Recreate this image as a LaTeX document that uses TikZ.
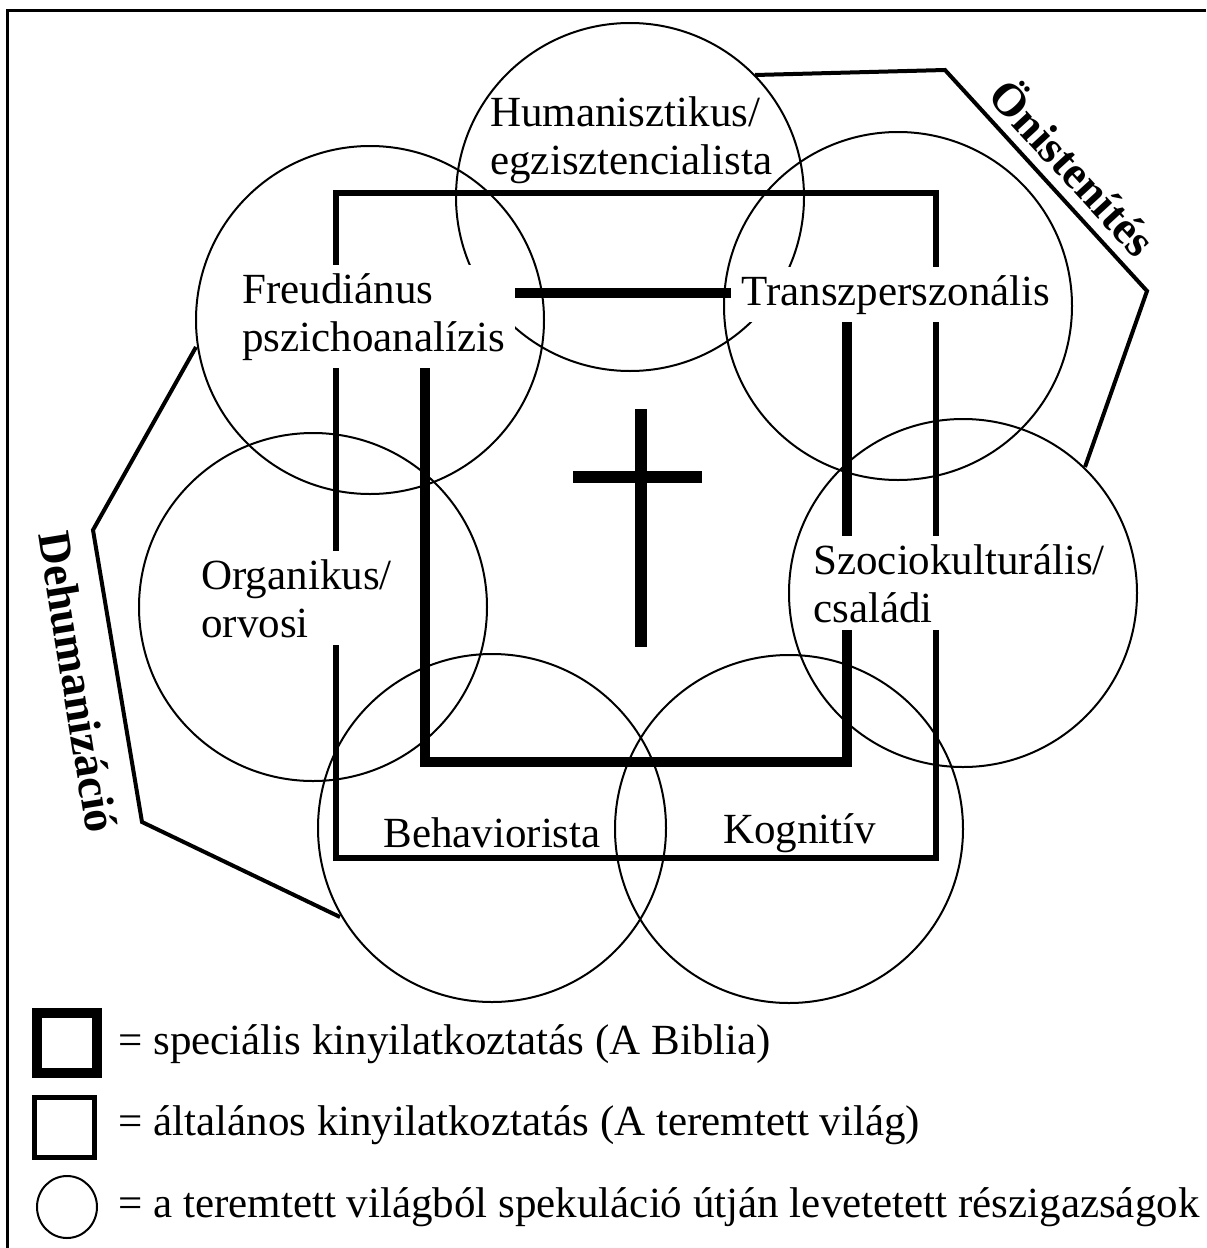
\documentclass[tikz,border=0pt]{standalone}
\usepackage{fontspec}
\setmainfont{Liberation Serif}
\usepackage{tikz}
\newcommand{\pxsize}{0.5pt}
\newcommand{\labelfont}{\fontsize{21.5}{24}\selectfont}
\newcommand{\trendfont}{\fontsize{23}{27}\selectfont\bfseries}
\newcommand{\schoolcircle}[1]{
	\draw[line width=1pt] (#1) circle (174);
}
\tikzset{
	school/.style={align=left, font=\labelfont, inner xsep=5pt, inner ysep=4pt},
	covered/.style={school, fill=white},
	trend/.style={font=\trendfont, inner sep=0pt},
	trend line/.style={line width=2pt},
}

\begin{document}
\begin{tikzpicture}[x=\pxsize,y=-\pxsize]
	\useasboundingbox (0,0) rectangle (1206,1248);
	\draw[line width=1.5pt] (7,1248) -- (7,10) -- (1206,10);

	\coordinate (Hum) at (630,197);
	\coordinate (Freud) at (370,320);
	\coordinate (Trans) at (898,306);
	\coordinate (Organ) at (313,607);
	\coordinate (Szoc) at (963,593);
	\coordinate (Behav) at (492,828);
	\coordinate (Kogn) at (789,829);

	\coordinate (oA) at (755,75);
	\coordinate (oB) at (945,70);
	\coordinate (oC) at (1147,291);
	\coordinate (oD) at (1085,467);
	\coordinate (dA) at (196,347);
	\coordinate (dB) at (93,530);
	\coordinate (dC) at (142,822);
	\coordinate (dD) at (340,917);

	\draw[trend line] (oA) -- (oB) -- (oC) -- (oD);
	\draw[trend line] (dA) -- (dB) -- (dC) -- (dD);

	\draw[line width=2.75pt] (336,193) rectangle (936,858);
	\draw[line width=5pt] (425,293) rectangle (847,762);
	\draw[line width=6pt] (641,409) -- (641,647);
	\draw[line width=6pt] (573,477) -- (702,477);

	\schoolcircle{Hum}
	\schoolcircle{Freud}
	\schoolcircle{Trans}
	\schoolcircle{Organ}
	\schoolcircle{Szoc}
	\schoolcircle{Behav}
	\schoolcircle{Kogn}

	\node[school, anchor=base west] (humlabel) at (480,174) {Humanisztikus/\\egzisztencialista};
	\node[covered, anchor=base west] (freudlabel) at (232,351) {Freudiánus\\pszichoanalízis};
	\node[covered, anchor=base west] (translabel) at (731,305) {Transzperszonális};
	\node[covered, anchor=base west] (organlabel) at (191,637) {Organikus/\\orvosi};
	\node[covered, anchor=base west] (szoclabel) at (803,622) {Szociokulturális/\\családi};
	\node[school, anchor=base west] (behavlabel) at (373,847) {Behaviorista};
	\node[school, anchor=base west] (kognlabel) at (713,843) {Kognitív};

	\node[trend, rotate=-47.4] (selfgod) at (1075,166) {Önistenítés};
	\node[trend, rotate=-80.8] (dehum) at (78,682) {Dehumanizáció};

	\draw[line width=5pt] (37,1013) rectangle (97,1073);
	\draw[line width=2.5pt] (34.5,1097.5) rectangle (94.5,1157.5);
	\draw[line width=1pt] (67,1207) ellipse (30 and 31);
	\node[school, anchor=base west, inner xsep=0pt] (speclabel) at (118,1054) {= speciális kinyilatkoztatás (A Biblia)};
	\node[school, anchor=base west, inner xsep=0pt] (genlabel) at (118,1135) {= általános kinyilatkoztatás (A teremtett világ)};
	\node[school, anchor=base west, inner xsep=0pt] (partlabel) at (118,1217) {= a teremtett világból spekuláció útján levetetett részigazságok};
\end{tikzpicture}
\end{document}
